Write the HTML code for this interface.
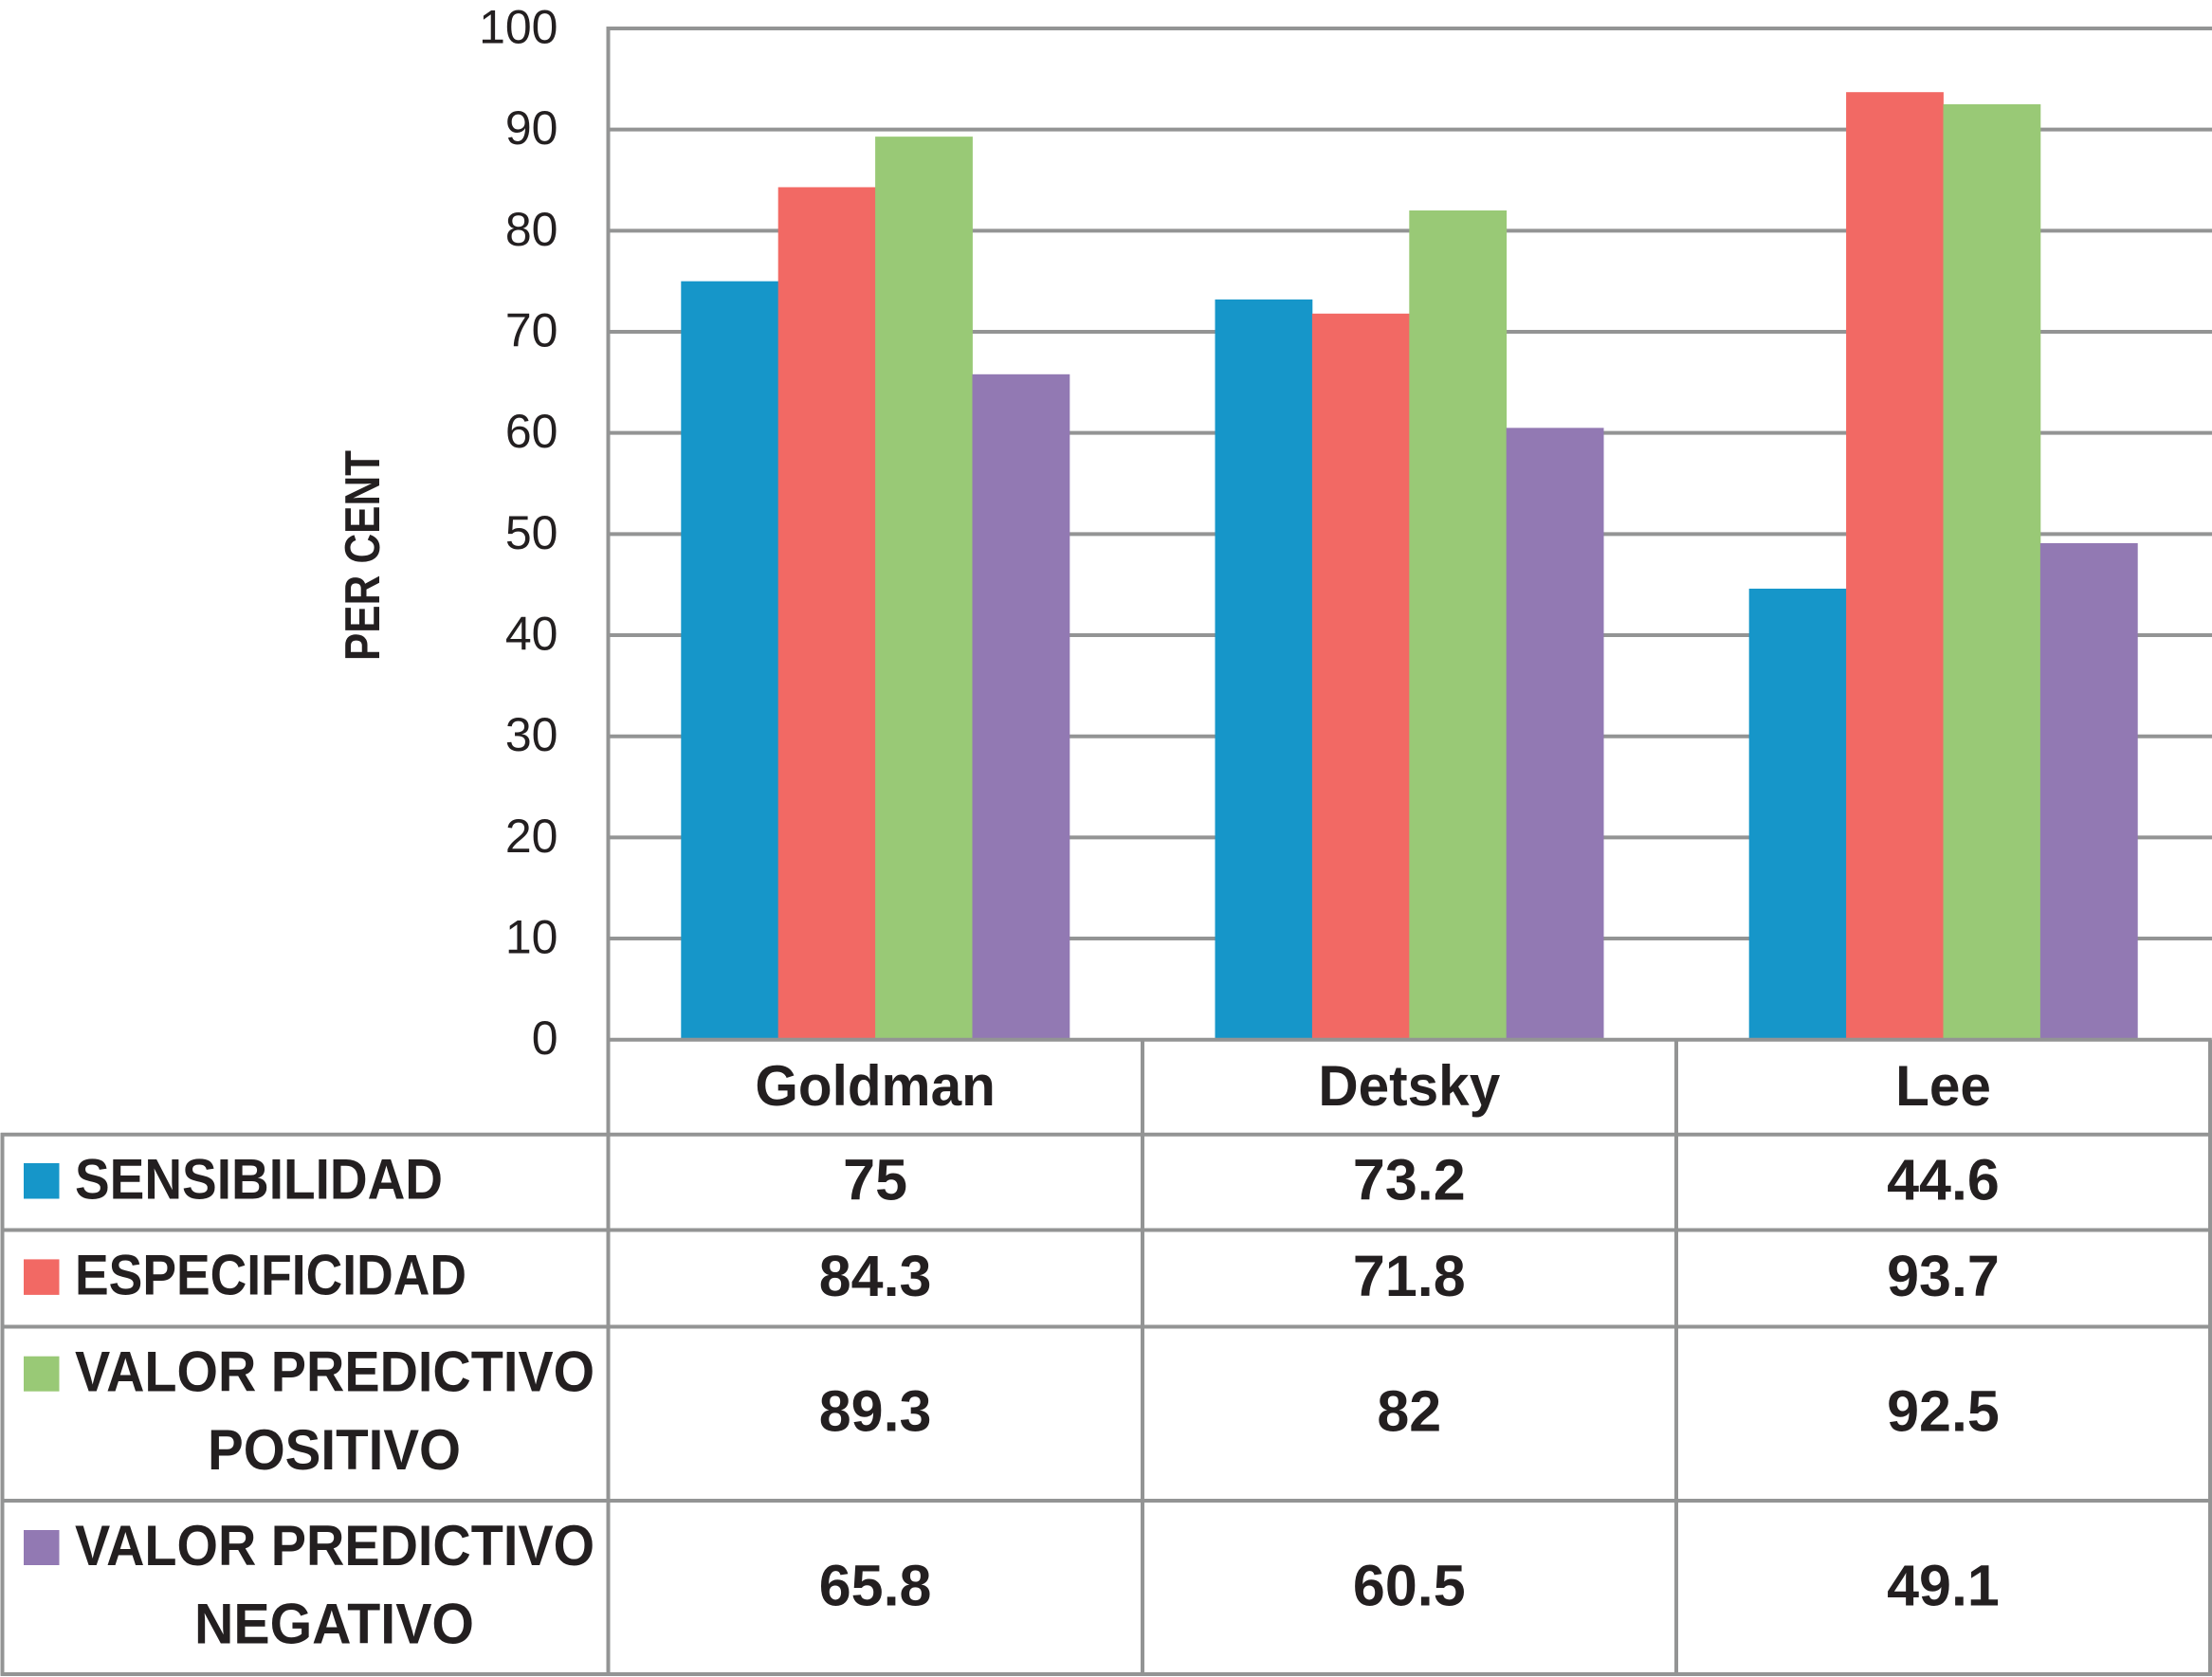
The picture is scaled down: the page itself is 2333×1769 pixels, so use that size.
<!DOCTYPE html>
<html lang="es">
<head>
<meta charset="utf-8">
<title>Goldman, Detsky, Lee</title>
<style>
html,body{margin:0;padding:0;background:#fff;}
svg{display:block;}
text{font-family:"Liberation Sans",sans-serif;fill:#231f20;}
.b{font-weight:700;font-size:60px;}
.v{font-weight:700;font-size:61px;}
.t{font-weight:400;font-size:50px;}
.ln{stroke:#939494;stroke-width:4;fill:none;}
</style>
</head>
<body>
<svg id="chart" xmlns="http://www.w3.org/2000/svg" width="2333" height="1769" viewBox="0 0 2333 1769">
  <rect x="0" y="0" width="2333" height="1769" fill="#ffffff"/>
  <g id="grid"></g>
  <g id="bars"></g>
  <g id="ticks"></g>
  <g>
    <line class="ln" x1="641.5" y1="28" x2="641.5" y2="1767.8"/>
    <line class="ln" x1="1205" y1="1096.7" x2="1205" y2="1767.8"/>
    <line class="ln" x1="1768" y1="1096.7" x2="1768" y2="1767.8"/>
    <line class="ln" x1="2331" y1="1096.7" x2="2331" y2="1767.8"/>
    <line class="ln" x1="2.5" y1="1195" x2="2.5" y2="1767.8"/>
    <line class="ln" x1="641.5" y1="1096.7" x2="2332.8" y2="1096.7"/>
    <line class="ln" x1="0.7" y1="1196.8" x2="2332.8" y2="1196.8"/>
    <line class="ln" x1="0.7" y1="1297.5" x2="2332.8" y2="1297.5"/>
    <line class="ln" x1="0.7" y1="1399.5" x2="2332.8" y2="1399.5"/>
    <line class="ln" x1="0.7" y1="1583" x2="2332.8" y2="1583"/>
    <line class="ln" x1="0.7" y1="1766" x2="2332.8" y2="1766"/>
  </g>
  <text class="b" style="font-size:52px" transform="translate(400,697) rotate(-90)" textLength="222" lengthAdjust="spacingAndGlyphs">PER CENT</text>

  <g>
    <rect x="25" y="1227" width="37.5" height="37.5" fill="#1696c9"/>
    <text class="b" x="79" y="1264.7" textLength="388" lengthAdjust="spacingAndGlyphs">SENSIBILIDAD</text>
    <rect x="25" y="1328.4" width="37.5" height="37.5" fill="#f26964"/>
    <text class="b" x="79" y="1365.6" textLength="413" lengthAdjust="spacingAndGlyphs">ESPECIFICIDAD</text>
    <rect x="25" y="1430.7" width="37.5" height="37" fill="#99c976"/>
    <text class="b" x="79" y="1467.4" textLength="548" lengthAdjust="spacingAndGlyphs">VALOR PREDICTIVO</text>
    <text class="b" x="219" y="1550" textLength="267" lengthAdjust="spacingAndGlyphs">POSITIVO</text>
    <rect x="25" y="1614" width="37.5" height="37" fill="#9279b3"/>
    <text class="b" x="79" y="1651" textLength="548" lengthAdjust="spacingAndGlyphs">VALOR PREDICTIVO</text>
    <text class="b" x="205" y="1733.5" textLength="295" lengthAdjust="spacingAndGlyphs">NEGATIVO</text>
  </g>
  <g id="cats"></g>
  <g id="cells"></g>
</svg>
<script>
const categories = ["Goldman", "Detsky", "Lee"];
const sensibilidad = [75, 73.2, 44.6];
const especificidad = [84.3, 71.8, 93.7];
const valorPositivo = [89.3, 82, 92.5];
const valorNegativo = [65.8, 60.5, 49.1];
const tickLabels = ["0", "10", "20", "30", "40", "50", "60", "70", "80", "90", "100"];

const NS = "http://www.w3.org/2000/svg";
const seriesValues = [sensibilidad, especificidad, valorPositivo, valorNegativo];
const seriesKeys = ["sensibilidad", "especificidad", "valor-positivo", "valor-negativo"];
const seriesFill = ["#1696c9", "#f26964", "#99c976", "#9279b3"];
const rowBaseline = [1265.5, 1367, 1509.5, 1693.5];

function yScale(v) { return 1096.7 - v * 10.667; }
function bandCenter(i) { return 641.5 + 563.2 * (i + 0.5); }
const barWidth = 102.4;

function make(tag, attrs, parent, content) {
  const el = document.createElementNS(NS, tag);
  for (const k in attrs) el.setAttribute(k, attrs[k]);
  if (content !== undefined) el.textContent = content;
  parent.appendChild(el);
  return el;
}

const gGrid = document.getElementById("grid");
const gTicks = document.getElementById("ticks");
tickLabels.forEach(function (label) {
  const v = Number(label);
  const y = yScale(v);
  if (v > 0) {
    const gl = make("line", { "class": "ln", x1: 641.5, x2: 2333, y1: y, y2: y }, gGrid);
    
    
  }
  const t = make("text", { "class": "t", x: 588.5, y: y + 15.5, "text-anchor": "end" }, gTicks, label);
  
  
});

const gBars = document.getElementById("bars");
const gCells = document.getElementById("cells");
const gCats = document.getElementById("cats");

categories.forEach(function (cat, c) {
  const cx = bandCenter(c);
  const label = make("text", { "class": "b", x: cx, y: 1166, "text-anchor": "middle" }, gCats, cat);
  
  
  const natural = label.getComputedTextLength();
  if (natural > 0) {
    label.setAttribute("textLength", (natural * 0.975).toFixed(1));
    label.setAttribute("lengthAdjust", "spacingAndGlyphs");
  }
  seriesValues.forEach(function (vals, s) {
    const v = vals[c];
    const top = yScale(v);
    const bar = make("rect", {
      x: cx - 2 * barWidth + s * barWidth,
      y: top,
      width: barWidth + 0.4,
      height: yScale(0) - top,
      fill: seriesFill[s]
    }, gBars);
    
    
    const cell = make("text", { "class": "v", x: cx, y: rowBaseline[s], "text-anchor": "middle" }, gCells, String(v));
    
    
  });
});
</script>
</body>
</html>
